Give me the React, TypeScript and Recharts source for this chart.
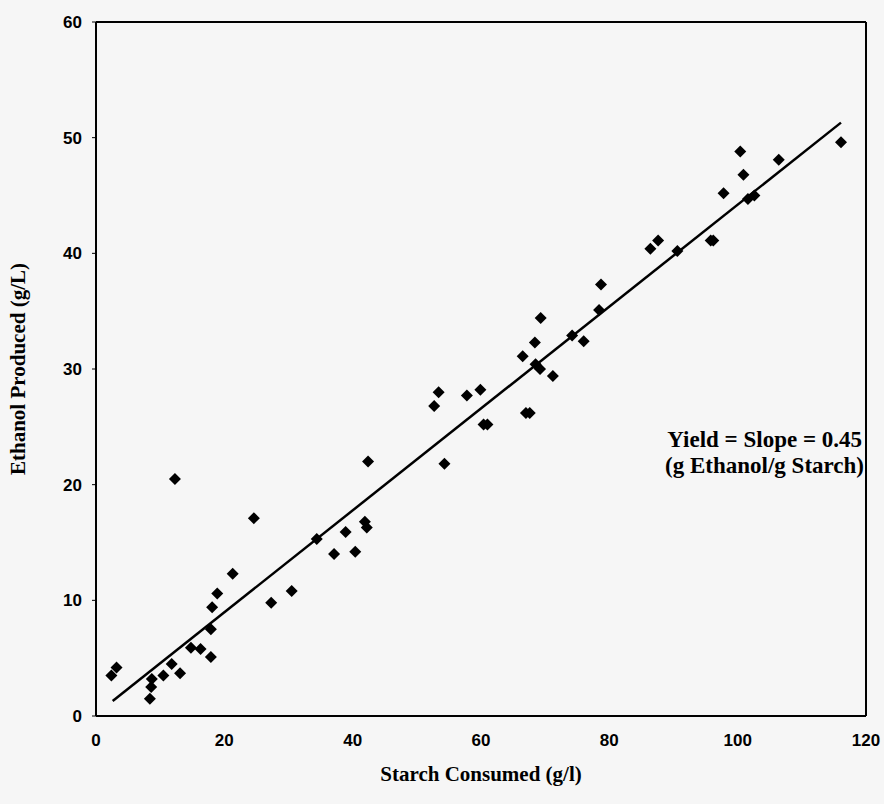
import React from 'react';
import {
  ComposedChart,
  Scatter,
  XAxis,
  YAxis,
  ReferenceLine,
} from 'recharts';

// Starch consumed (g/l) per sample
const starchConsumed = [
  2.4, 3.2, 8.7, 8.6, 8.4, 10.5, 11.8, 12.3, 13.1, 14.8, 16.3, 17.9, 17.9, 18.1,
  18.9, 21.3, 24.6, 27.3, 30.5, 34.4, 37.1, 38.9, 40.4, 41.9, 42.2, 42.4, 52.7,
  53.4, 54.3, 57.8, 59.9, 60.4, 61.0, 66.5, 67.0, 67.6, 68.4, 68.5, 69.2, 69.3,
  71.2, 74.2, 76.0, 78.4, 78.7, 86.4, 87.6, 90.6, 95.8, 96.2, 97.8, 100.4, 100.9,
  101.6, 102.6, 106.4, 116.1,
];

// Ethanol produced (g/L) per sample
const ethanolProduced = [
  3.5, 4.2, 3.2, 2.5, 1.5, 3.5, 4.5, 20.5, 3.7, 5.9, 5.8, 5.1, 7.5, 9.4, 10.6,
  12.3, 17.1, 9.8, 10.8, 15.3, 14.0, 15.9, 14.2, 16.8, 16.3, 22.0, 26.8, 28.0,
  21.8, 27.7, 28.2, 25.2, 25.2, 31.1, 26.2, 26.2, 32.3, 30.4, 30.0, 34.4, 29.4,
  32.9, 32.4, 35.1, 37.3, 40.4, 41.1, 40.2, 41.1, 41.1, 45.2, 48.8, 46.8, 44.7,
  45.0, 48.1, 49.6,
];

// Fitted line end points
const fitX = [2.6, 116.1];
const fitY = [1.3, 51.3];

const xTicks = [0, 20, 40, 60, 80, 100, 120];
const yTicks = [0, 10, 20, 30, 40, 50, 60];

const points = starchConsumed.map((x, i) => ({ x, y: ethanolProduced[i] }));
const fitLine = fitX.map((x, i) => ({ x, y: fitY[i] }));

const serif = "'Liberation Serif', 'Times New Roman', serif";
const sans = "'Liberation Sans', Arial, sans-serif";

const Diamond = (props: any) => {
  const { cx, cy } = props;
  const r = 6;
  return (
    <polygon
      points={`${cx},${cy - r} ${cx + r},${cy} ${cx},${cy + r} ${cx - r},${cy}`}
      fill="#000"
    />
  );
};

export default function App() {
  return (
    <div
      style={{
        position: 'absolute',
        left: 0,
        top: 0,
        width: 884,
        height: 804,
        background: '#f6f6f6',
      }}
    >
      <ComposedChart
        width={884}
        height={804}
        margin={{ top: 22, right: 18, bottom: 58, left: 0 }}
      >
        <XAxis
          type="number"
          dataKey="x"
          domain={[0, 120]}
          ticks={xTicks}
          height={30}
          tickLine={false}
          tickSize={6}
          tickMargin={12}
          axisLine={{ stroke: '#000', strokeWidth: 2 }}
          tick={{ fontSize: 17, fill: '#000', fontFamily: sans, fontWeight: 'bold' }}
          label={{
            value: 'Starch Consumed (g/l)',
            position: 'bottom',
            offset: 20,
            style: { fontSize: 21, fontFamily: serif, fontWeight: 'bold', fill: '#000' },
          }}
        />
        <YAxis
          type="number"
          dataKey="y"
          domain={[0, 60]}
          ticks={yTicks}
          width={96}
          tickSize={4}
          tickMargin={10}
          tickLine={{ stroke: '#000' }}
          axisLine={{ stroke: '#000', strokeWidth: 2 }}
          tick={{ fontSize: 17, fill: '#000', fontFamily: sans, fontWeight: 'bold' }}
          label={{
            value: 'Ethanol Produced (g/L)',
            angle: -90,
            position: 'insideLeft',
            offset: 18,
            style: {
              fontSize: 21,
              fontFamily: serif,
              fontWeight: 'bold',
              fill: '#000',
              textAnchor: 'middle',
            },
          }}
        />
        <ReferenceLine y={60} stroke="#000" strokeWidth={2} />
        <ReferenceLine x={120} stroke="#000" strokeWidth={2} />
        <Scatter
          data={fitLine}
          line={{ stroke: '#000', strokeWidth: 2.5 }}
          shape={() => null}
          isAnimationActive={false}
        />
        <Scatter data={points} shape={<Diamond />} isAnimationActive={false} />
        <text
          x={862}
          y={447}
          textAnchor="end"
          fontFamily={serif}
          fontWeight="bold"
          fontSize={23}
          fill="#000"
        >
          Yield = Slope = 0.45
        </text>
        <text
          x={864}
          y={473}
          textAnchor="end"
          fontFamily={serif}
          fontWeight="bold"
          fontSize={23}
          fill="#000"
        >
          (g Ethanol/g Starch)
        </text>
      </ComposedChart>
    </div>
  );
}
